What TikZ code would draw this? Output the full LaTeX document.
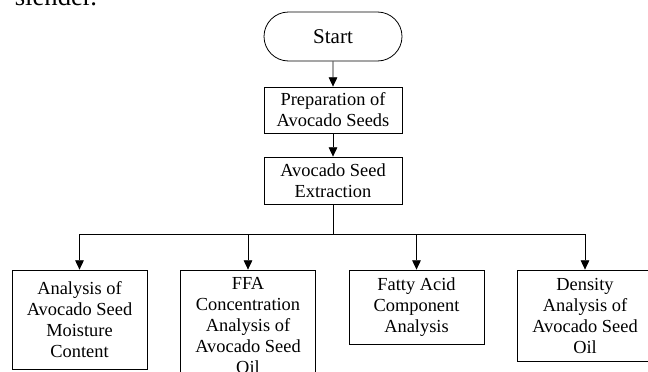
\documentclass[tikz,border=0pt]{standalone}
\usepackage{fontspec}
\setmainfont{Liberation Serif}
\usetikzlibrary{arrows.meta,shapes.misc}
\begin{document}
\begin{tikzpicture}[x=0.75pt,y=-0.75pt,
    line width=0.6pt,
    >={Triangle[length=7pt,width=6.5pt]},
    box/.style={draw,rectangle,align=center,inner sep=0pt,
      minimum width=#1,font=\fontsize{13.8}{15.75}\selectfont},
    box/.default=101.25pt,
    terminal/.style={draw,rounded rectangle,inner sep=0pt,
      minimum width=103.5pt,minimum height=36.75pt,
      font=\fontsize{15.75}{18}\selectfont}]
  \useasboundingbox (0,0) rectangle (648,371);
  \clip (0,0) rectangle (648,371);
  \node[anchor=base west,font=\fontsize{20}{24}\selectfont] (pagetext) at (10,5) {slender.};
  \draw
    (333,36.5) node[terminal] (start){Start}
    (333,110) node[box=103.5pt,minimum height=34.5pt] (prep){Preparation of\\Avocado Seeds}
    (333,180.5) node[box=103.5pt,minimum height=35.25pt] (extract){Avocado Seed\\Extraction}
    (79.5,319.5) node[box,minimum height=74.25pt] (moisture){Analysis of\\Avocado Seed\\Moisture\\Content}
    (248,325.5) node[box,minimum height=83.25pt] (ffa){FFA\\Concentration\\Analysis of\\Avocado Seed\\Oil}
    (416.5,307) node[box,minimum height=55.5pt] (fatty){Fatty Acid\\Component\\Analysis}
    (585,315.5) node[box,minimum height=68.25pt] (density){Density\\Analysis of\\Avocado Seed\\Oil};
  \coordinate (split) at (333,234);
  \begin{scope}[->]
    \draw (start) to (prep);
    \draw (prep) to (extract);
    \draw[-] (extract) to (split);
    \draw (split) -| (moisture.north);
    \draw (split) -| (ffa.north);
    \draw (split) -| (fatty.north);
    \draw (split) -| (density.north);
  \end{scope}
\end{tikzpicture}
\end{document}
